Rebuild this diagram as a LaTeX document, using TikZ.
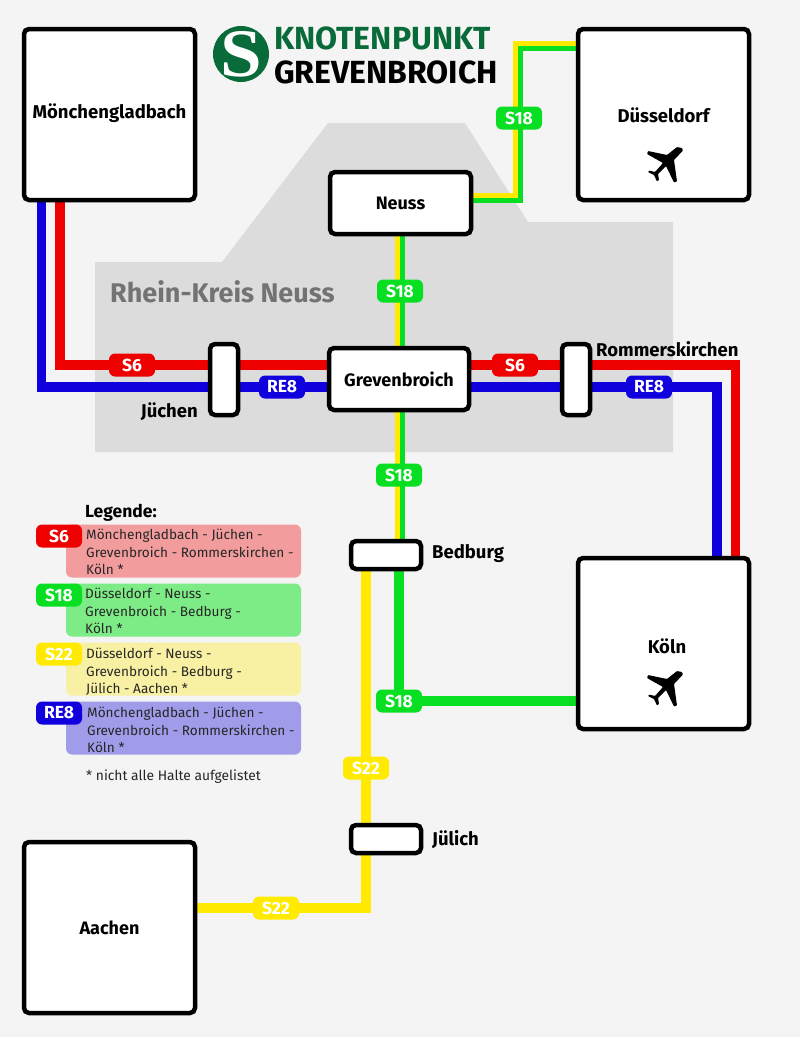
\documentclass[tikz,border=0pt]{standalone}
\usepackage{fontspec}
\usetikzlibrary{backgrounds}
\setmainfont{Fira Sans}
\newfontfamily\logofont{Liberation Serif}
\definecolor{bgc}{HTML}{F4F4F4}
\definecolor{regionc}{HTML}{DCDCDC}
\definecolor{rl}{HTML}{EE0000}
\definecolor{bl}{HTML}{1000DD}
\definecolor{gl}{HTML}{08DF22}
\definecolor{yl}{HTML}{FFEA00}
\definecolor{logog}{HTML}{0A6B3A}
\definecolor{lr}{HTML}{F29C9E}
\definecolor{lg}{HTML}{7EEC86}
\definecolor{ly}{HTML}{F8F0A2}
\definecolor{lb}{HTML}{A09CEA}
\tikzset{
  station/.style={draw=black,line width=4.5pt,fill=white,rounded corners=5pt,inner sep=0pt,font=\bfseries\fontsize{18}{20}\selectfont},
  bigst/.style={station,minimum width=171pt,minimum height=171pt},
  line/.style={line width=9.5pt},
  halfline/.style={line width=5pt},
  badge/.style={fill=#1,rounded corners=6pt,text=white,font=\bfseries\fontsize{17.5}{18}\selectfont,minimum height=23pt,minimum width=46pt,inner sep=0pt},
  legendbox/.style={fill=#1,rounded corners=6pt,minimum width=235pt,minimum height=53pt,inner sep=0pt},
  legendtext/.style={anchor=north west,align=left,inner sep=0pt,font=\fontsize{13.6}{17.5}\selectfont,text=black!85},
  lab/.style={font=\bfseries\fontsize{18.5}{20}\selectfont,inner sep=0pt}
}
\newcommand{\planeshape}[2]{\fill[black,rounded corners=0.8pt,shift={(#1,#2)}] (13,-12) -- (14,-9.5) -- (5,0) -- (8,21.5) -- (5,22.5) -- (-3,6) -- (-11,14) -- (-10,20) -- (-12,21.5) -- (-15,15) -- (-21,12) -- (-20,10.5) -- (-14,12) -- (-6,3) -- (-22,-6) -- (-21,-9) -- (-2,-5) -- (8,-13) -- cycle;}
\begin{document}
\begin{tikzpicture}[x=1pt,y=-1pt]
\useasboundingbox (0,0) rectangle (800,1037);

% stations
\node[bigst] (mg) at (109.5,114.5) {};
\node[lab] (mgl) at (109.5,113) {Mönchengladbach};
\node[bigst] (due) at (663.5,114.5) {};
\node[lab] (duel) at (663.5,115) {Düsseldorf};
\node[station,minimum width=141pt,minimum height=62pt] (neuss) at (400.5,203) {Neuss};
\node[station,minimum width=140pt,minimum height=62pt] (grev) at (399,379) {Grevenbroich};
\node[station,minimum width=28pt,minimum height=71pt] (jue) at (224,379.5) {};
\node[station,minimum width=28pt,minimum height=71pt] (rom) at (576,379.5) {};
\node[station,minimum width=70pt,minimum height=28pt] (bed) at (386,555) {};
\node[station,minimum width=70pt,minimum height=28pt] (jul) at (386,839) {};
\node[bigst] (koe) at (663.5,643.5) {};
\node[lab] (koel) at (667,646) {Köln};
\node[bigst] (aac) at (109.5,927.5) {Aachen};

\begin{scope}[on background layer]
\fill[bgc] (0,0) rectangle (800,1037);
\fill[regionc] (95,262) -- (222,262) -- (328,123) -- (465,123) -- (528,222) -- (673,222) -- (673,452) -- (95,452) -- cycle;
% connectors
\draw[rl,line] ([xshift=-49.5pt]mg.south) |- ([yshift=14.5pt]jue.west);
\draw[bl,line] ([xshift=-68pt]mg.south) |- ([yshift=-7.5pt]jue.west);
\draw[rl,line] ([yshift=14.5pt]jue.east) -- ([yshift=14pt]grev.west);
\draw[bl,line] ([yshift=-7.5pt]jue.east) -- ([yshift=-8pt]grev.west);
\draw[rl,line] ([yshift=14pt]grev.east) -- ([yshift=14.5pt]rom.west);
\draw[bl,line] ([yshift=-8pt]grev.east) -- ([yshift=-7.5pt]rom.west);
\draw[rl,line] ([yshift=14.5pt]rom.east) -| ([xshift=72pt]koe.north);
\draw[bl,line] ([yshift=-7.5pt]rom.east) -| ([xshift=53.5pt]koe.north);
% Neuss - Duesseldorf
\draw[yl,halfline] ([yshift=7.5pt]neuss.east) -| (515.5,43) -- ([yshift=71.5pt]due.west);
\draw[gl,halfline] ([yshift=2.5pt]neuss.east) -| (520.5,48) -- ([yshift=66.5pt]due.west);
% Neuss - Grevenbroich - Bedburg
\draw[yl,halfline] ([xshift=-3pt]neuss.south) -- ([xshift=-1.5pt]grev.north);
\draw[gl,halfline] ([xshift=2pt]neuss.south) -- ([xshift=3.5pt]grev.north);
\draw[yl,halfline] ([xshift=-1.5pt]grev.south) -- ([xshift=11.5pt]bed.north);
\draw[gl,halfline] ([xshift=3.5pt]grev.south) -- ([xshift=16.5pt]bed.north);
% Bedburg - Koeln
\draw[gl,line] ([xshift=13pt]bed.south) |- ([yshift=-57.5pt]koe.west);
% Bedburg - Juelich - Aachen
\draw[yl,line] ([xshift=-20pt]bed.south) -- ([xshift=-20pt]jul.north);
\draw[yl,line] ([xshift=-20pt]jul.south) |- ([yshift=19.5pt]aac.east);
\end{scope}

\node[font=\bfseries\fontsize{27}{30}\selectfont,text=black!55,anchor=west,inner sep=0pt] (kreis) at (110,292) {Rhein-Kreis Neuss};

% outside labels
\node[lab,anchor=east] (juel) at (198,412) {Jüchen};
\node[lab,anchor=west] (roml) at (596,349) {Rommerskirchen};
\node[lab,anchor=west] (bedl) at (432,554) {Bedburg};
\node[lab,anchor=west] (jull) at (432,840) {Jülich};

% badges
\node[badge=rl] (b1) at (132,365) {S6};
\node[badge=bl] (b2) at (282,387) {RE8};
\node[badge=rl] (b3) at (515,365) {S6};
\node[badge=bl] (b4) at (649,387) {RE8};
\node[badge=gl] (b5) at (400,291) {S18};
\node[badge=gl] (b6) at (399,475) {S18};
\node[badge=gl] (b7) at (399,701) {S18};
\node[badge=gl] (b8) at (519,118) {S18};
\node[badge=yl] (b9) at (366,768) {S22};
\node[badge=yl] (b10) at (276,908) {S22};

% logo
\fill[logog] (241,54) circle (28pt);
\node[text=white,inner sep=0pt,font=\logofont\bfseries\fontsize{68}{68}\selectfont,xscale=1.1] (slogo) at (241,54) {S};
\node[anchor=west,inner sep=0pt,text=logog,font=\bfseries\fontsize{32}{34}\selectfont] (t1) at (274,38) {KNOTENPUNKT};
\node[anchor=west,inner sep=0pt,text=black,font=\bfseries\fontsize{32}{34}\selectfont] (t2) at (274,72) {GREVENBROICH};

% legend
\node[anchor=west,inner sep=0pt,font=\bfseries\fontsize{17.5}{19}\selectfont] (lt) at (85,513) {Legende:};
\node[legendbox=lr] (l1) at (183.5,551) {};
\node[legendbox=lg] (l2) at (183.5,610) {};
\node[legendbox=ly] (l3) at (183.5,669) {};
\node[legendbox=lb] (l4) at (183.5,728) {};
\node[badge=rl] (k1) at (59,536) {S6};
\node[badge=gl] (k2) at (59,595) {S18};
\node[badge=yl] (k3) at (59,654) {S22};
\node[badge=bl] (k4) at (59,713) {RE8};
\node[legendtext] at (86,529) {Mönchengladbach - Jüchen -\\Grevenbroich - Rommerskirchen -\\Köln *};
\node[legendtext] at (85,588) {Düsseldorf - Neuss -\\Grevenbroich - Bedburg -\\Köln *};
\node[legendtext] at (86,648) {Düsseldorf - Neuss -\\Grevenbroich - Bedburg -\\Jülich - Aachen *};
\node[legendtext] at (87,707) {Mönchengladbach - Jüchen -\\Grevenbroich - Rommerskirchen -\\Köln *};
\node[anchor=west,inner sep=0pt,font=\fontsize{13.8}{16}\selectfont,text=black!85] (fn) at (86,777) {* nicht alle Halte aufgelistet};

% planes
\planeshape{669}{160}
\planeshape{669}{684}
\end{tikzpicture}
\end{document}
